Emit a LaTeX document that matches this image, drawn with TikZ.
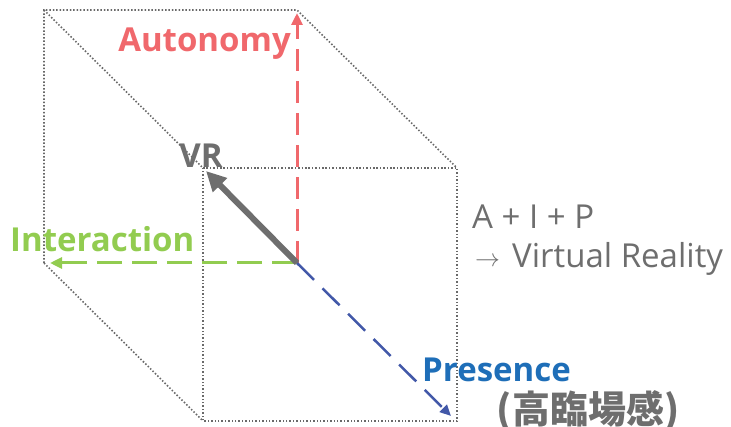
\documentclass[tikz,border=0pt]{standalone}
\usepackage{fontspec}
\setmainfont{Open Sans}
\newfontfamily\cjk{Noto Sans CJK JP}
\usetikzlibrary{arrows.meta}
\definecolor{edgegray}{RGB}{105,105,105}
\definecolor{axred}{RGB}{240,104,108}
\definecolor{axgreen}{RGB}{146,204,80}
\definecolor{axblue}{RGB}{66,88,168}
\definecolor{txtblue}{RGB}{30,110,184}
\definecolor{txtgray}{RGB}{110,110,110}
\tikzset{
  cubeedge/.style={draw=edgegray, line width=1.6pt, dash pattern=on 1.5pt off 1.9pt},
  axisline/.style={line width=3pt, dash pattern=on 22pt off 10pt, -{Triangle[length=12pt,width=11pt]}},
  lbl/.style={inner sep=0pt, font=\bfseries\fontsize{33}{33}\selectfont},
}
\begin{document}
\begin{tikzpicture}[x=1pt,y=-1pt]
\useasboundingbox (0,0) rectangle (731,427);
% cube corners
\coordinate (btl) at (44,10);
\coordinate (btr) at (297,10);
\coordinate (bbl) at (44,263);
\coordinate (O) at (297,263);
\coordinate (ftl) at (203,168);
\coordinate (ftr) at (457,168);
\coordinate (fbl) at (203,421);
\coordinate (fbr) at (457,421);
% axis end points
\coordinate (aend) at (297,13);
\coordinate (iend) at (50,263);
\coordinate (pend) at (451,416);
\coordinate (vend) at (206,171);
% dotted edges
\draw[cubeedge] (bbl) -- (btl) -- (btr) -- (ftr);
\draw[cubeedge] (btl) -- (ftl);
\draw[cubeedge] (bbl) -- (fbl);
\draw[cubeedge] (ftl) -- (ftr) -- (fbr) -- (fbl) -- cycle;
% axes
\draw[axisline, axred] (O) -- (aend);
\draw[axisline, axgreen, dash pattern=on 25pt off 10pt] (O) -- (iend);
\draw[axblue, line width=2.5pt, dash pattern=on 24pt off 12pt, -{Triangle[length=11pt,width=10pt]}] (O) -- (pend);
\draw[txtgray, line width=6pt, -{Triangle[length=20pt,width=19pt]}] (O) -- (vend);
% labels
\node[lbl, text=axred, anchor=base east] (autonomy) at (291,52) {Autonomy};
\node[lbl, text=txtgray, anchor=base] (vr) at (201,168) {VR};
\node[lbl, text=axgreen, anchor=base west] (interaction) at (10,252) {Interaction};
\node[lbl, text=txtblue, anchor=base west] (presence) at (422,382) {Presence};
\node[inner sep=0pt, text=txtgray, anchor=center, font=\cjk\bfseries\fontsize{38}{38}\selectfont] (jp) at (588,411) {(高臨場感)};
\node[inner sep=0pt, text=txtgray, anchor=base west, font=\fontsize{33}{33}\selectfont] (aip) at (472,229) {A + I + P};
\node[inner sep=0pt, text=txtgray, anchor=base west, font=\fontsize{33}{33}\selectfont] (vrtext) at (512,268) {Virtual Reality};
\node[inner sep=0pt, text=txtgray, anchor=base west, font=\fontsize{26}{26}\selectfont] (arr) at (475,267) {$\rightarrow$};
\end{tikzpicture}
\end{document}
